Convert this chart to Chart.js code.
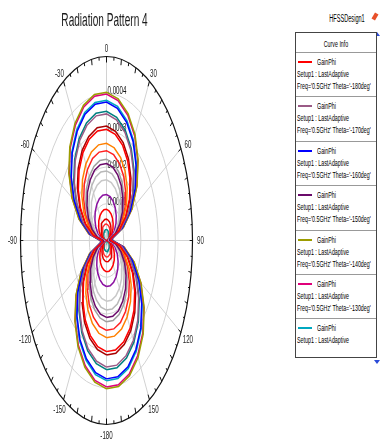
<!DOCTYPE html>
<html>
<head>
<meta charset="utf-8">
<script src="https://cdn.jsdelivr.net/npm/chart.js@4.4.1/dist/chart.umd.min.js"></script>
<style>
    body { margin: 0; background: #fff; font-family: "Liberation Sans", Arial, sans-serif; }
    #page { position: relative; width: 382px; height: 441px; overflow: hidden; }
    #plot { position: absolute; left: 0; top: 0; width: 230px; height: 441px; }
    .txt { position: absolute; white-space: nowrap; font-size: 9.5px; line-height: 12px; color: #000;
           transform: scaleX(0.56); transform-origin: left center; }
    .ctr { text-align: center; width: 200px; transform-origin: center center; }
    #legend { position: absolute; left: 295px; top: 32px; width: 80px; height: 324px;
              border: 1px solid #444; background: #fff; }
    .sep { position: absolute; left: 0; width: 80px; height: 0; border-top: 1px solid #999; }
    .sw { position: absolute; left: 2px; width: 14px; height: 2px; }
    .arr { position: absolute; width: 0; height: 0; border-left: 3px solid transparent; border-right: 3px solid transparent; }
</style>
</head>
<body>
<div id="page">
    <div id="plot"><canvas id="patternChart"></canvas></div>
    <div class="txt ctr" style="left:247px; top:13px; font-size:10px;">HFSSDesign1</div>
    <div style="position:absolute; left:373px; top:13px; width:4px; height:7px; background:#e8502a; transform:rotate(30deg);"></div>
    <div class="arr" style="left:374px; top:32px; border-bottom:4px solid #2a4ad8;"></div>
    <div class="arr" style="left:374px; top:360px; border-top:4px solid #2a4ad8;"></div>
    <div id="legend"></div>
</div>
<script>
    // phi sweep (deg)
    const phiDeg = [-180,-170,-160,-150,-140,-130,-120,-110,-100,-90,-80,-70,-60,-50,-40,-30,-20,-10,
                    0,10,20,30,40,50,60,70,80,90,100,110,120,130,140,150,160,170,180];

    // GainPhi values, in units of 1e-6, one array per Theta
    const gain_m180 = [302,293,275,248,214,174,128,78,26,26,78,128,174,214,248,275,293,302,302,293,275,248,214,174,128,78,26,26,78,128,174,214,248,275,293,302,302];
    const gain_m170 = [344,333,313,283,244,198,146,89,30,30,89,146,198,244,283,313,333,344,344,333,313,283,244,198,146,89,30,30,89,146,198,244,283,313,333,344,344];
    const gain_m160 = [376,365,342,310,267,217,160,98,33,33,98,160,217,267,310,342,365,376,376,365,342,310,267,217,160,98,33,33,98,160,217,267,310,342,365,376,376];
    const gain_m150 = [209,203,190,172,148,121,89,54,18,18,54,89,121,148,172,190,203,209,209,203,190,172,148,121,89,54,18,18,54,89,121,148,172,190,203,209,209];
    const gain_m140 = [403,391,367,332,286,232,171,105,35,35,105,171,232,286,332,367,391,403,403,391,367,332,286,232,171,105,35,35,105,171,232,286,332,367,391,403,403];
    const gain_m130 = [398,386,362,328,283,230,169,104,35,35,104,169,230,283,328,362,386,398,398,386,362,328,283,230,169,104,35,35,104,169,230,283,328,362,386,398,398];
    const gain_m120 = [381,370,347,314,271,220,162,99,33,33,99,162,220,271,314,347,370,381,381,370,347,314,271,220,162,99,33,33,99,162,220,271,314,347,370,381,381];
    const gain_m110 = [351,340,319,288,249,202,149,91,31,31,91,149,202,249,288,319,340,351,351,340,319,288,249,202,149,91,31,31,91,149,202,249,288,319,340,351,351];
    const gain_m100 = [311,301,283,256,221,179,132,81,27,27,81,132,179,221,256,283,301,311,311,301,283,256,221,179,132,81,27,27,81,132,179,221,256,283,301,311,311];
    const gain_m90  = [264,256,240,217,187,152,112,69,23,23,69,112,152,187,217,240,256,264,264,256,240,217,187,152,112,69,23,23,69,112,152,187,217,240,256,264,264];
    const gain_m80  = [244,237,222,201,173,141,104,63,21,21,63,104,141,173,201,222,237,244,244,237,222,201,173,141,104,63,21,21,63,104,141,173,201,222,237,244,244];
    const gain_m70  = [221,214,201,182,157,127,94,57,19,19,57,94,127,157,182,201,214,221,221,214,201,182,157,127,94,57,19,19,57,94,127,157,182,201,214,221,221];
    const gain_m60  = [189,184,172,156,134,109,80,49,17,17,49,80,109,134,156,172,184,189,189,184,172,156,134,109,80,49,17,17,49,80,109,134,156,172,184,189,189];
    const gain_m50  = [165,160,150,136,117,95,70,43,14,14,43,70,95,117,136,150,160,165,165,160,150,136,117,95,70,43,14,14,43,70,95,117,136,150,160,165,165];
    const gain_m40  = [125,121,113,102,88,72,53,32,11,11,32,53,72,88,102,113,121,125,125,121,113,102,88,72,53,32,11,11,32,53,72,88,102,113,121,125,125];
    const gain_m30  = [85,82,77,70,60,49,36,22,7,7,22,36,49,60,70,77,82,85,85,82,77,70,60,49,36,22,7,7,22,36,49,60,70,77,82,85,85];
    const gain_m20  = [58,56,53,48,41,33,25,15,5,5,15,25,33,41,48,53,56,58,58,56,53,48,41,33,25,15,5,5,15,25,33,41,48,53,56,58,58];
    const gain_m10  = [45,43,41,37,32,26,19,12,4,4,12,19,26,32,37,41,43,45,45,43,41,37,32,26,19,12,4,4,12,19,26,32,37,41,43,45,45];
    const gain_0    = [30,29,27,25,21,17,13,8,3,3,8,13,17,21,25,27,29,30,30,29,27,25,21,17,13,8,3,3,8,13,17,21,25,27,29,30,30];

    const thetaLabels = ["-180","-170","-160","-150","-140","-130","-120","-110","-100","-90",
                         "-80","-70","-60","-50","-40","-30","-20","-10","0"];
    const seriesValues = [gain_m180, gain_m170, gain_m160, gain_m150, gain_m140, gain_m130, gain_m120,
                          gain_m110, gain_m100, gain_m90, gain_m80, gain_m70, gain_m60, gain_m50,
                          gain_m40, gain_m30, gain_m20, gain_m10, gain_0];
    const seriesColors = ["#ff0000","#9a5a86","#0000ff","#6a0a6a","#9c9c00","#e0007a","#00a8c0",
                          "#008080","#a80000","#ff8000","#ff2020","#a0a0a0","#b8b8b8","#c8c8c8",
                          "#8a10a0","#ff0000","#e00000","#ff3030","#008c8c"];

    const radialTicks = [100, 200, 300, 400];
    const radialTickLabels = ["0.0001", "0.0002", "0.0003", "0.0004"];
    const radialMax = 500;
    const angleTicks = [0, 30, 60, 90, 120, 150, 180, -150, -120, -90, -60, -30];
    const angleTickLabels = ["0", "30", "60", "90", "120", "150", "-180", "-150", "-120", "-90", "-60", "-30"];

    const FONT = '"Liberation Sans", Arial, sans-serif';
    const SQUASH = 0.56;

    function to_points(vals) {
        return vals.map(function (r, i) {
            var a = phiDeg[i] * Math.PI / 180;
            return { x: r * Math.sin(a), y: r * Math.cos(a) };
        });
    }

    function squashed_text(ctx, txt, x, y, size, align, base) {
        ctx.save();
        ctx.translate(x, y);
        ctx.scale(SQUASH, 1);
        ctx.font = size + 'px ' + FONT;
        ctx.textAlign = align;
        ctx.textBaseline = base;
        ctx.fillText(txt, 0, 0);
        ctx.restore();
    }

    function ellipse_path(ctx, cx, cy, rx, ry) {
        ctx.beginPath();
        ctx.ellipse(cx, cy, rx, ry, 0, 0, Math.PI * 2);
    }

    const polarFrame = {
        id: 'polarFrame',
        beforeDatasetsDraw(chart) {
            const ctx = chart.ctx, sx = chart.scales.x, sy = chart.scales.y;
            const cx = sx.getPixelForValue(0), cy = sy.getPixelForValue(0);
            const rx = sx.getPixelForValue(radialMax) - cx, ry = cy - sy.getPixelForValue(radialMax);
            ctx.save();
            ctx.strokeStyle = '#d2d2d2';
            ctx.lineWidth = 1;
            radialTicks.forEach(function (r) {
                ellipse_path(ctx, cx, cy, sx.getPixelForValue(r) - cx, cy - sy.getPixelForValue(r));
                ctx.stroke();
            });
            for (let a = 0; a < 360; a += 30) {
                const t = a * Math.PI / 180;
                ctx.beginPath();
                ctx.moveTo(cx, cy);
                ctx.lineTo(cx + rx * Math.sin(t), cy - ry * Math.cos(t));
                ctx.stroke();
            }
            ctx.fillStyle = '#111';
            radialTicks.forEach(function (r, i) {
                squashed_text(ctx, radialTickLabels[i], cx + 1, sy.getPixelForValue(r) - 2, 11, 'left', 'middle');
            });
            ctx.restore();
        },
        afterDatasetsDraw(chart) {
            const ctx = chart.ctx, sx = chart.scales.x, sy = chart.scales.y;
            const cx = sx.getPixelForValue(0), cy = sy.getPixelForValue(0);
            const rx = sx.getPixelForValue(radialMax) - cx, ry = cy - sy.getPixelForValue(radialMax);
            ctx.save();
            ctx.strokeStyle = '#111';
            ctx.lineWidth = 1.2;
            ellipse_path(ctx, cx, cy, rx, ry);
            ctx.stroke();
            ctx.lineWidth = 1;
            for (let a = 0; a < 360; a += 5) {
                const t = a * Math.PI / 180;
                const len = (a % 10 === 0) ? 6 : 3.5;
                const px = cx + rx * Math.sin(t), py = cy - ry * Math.cos(t);
                ctx.beginPath();
                ctx.moveTo(px, py);
                ctx.lineTo(px - len * 0.47 * Math.sin(t), py + len * Math.cos(t));
                ctx.stroke();
            }
            ctx.fillStyle = '#222';
            angleTicks.forEach(function (a, i) {
                const t = a * Math.PI / 180;
                const lx = cx + (rx + 8) * Math.sin(t);
                const ly = cy - (ry + 8) * Math.cos(t) + (Math.cos(t) < -0.1 ? 3 : 0);
                squashed_text(ctx, angleTickLabels[i], lx, ly, 11, 'center', 'middle');
            });
            ctx.fillStyle = '#1a1a1a';
            squashed_text(ctx, 'Radiation Pattern 4', 104.5, 21, 18, 'center', 'middle');
            ctx.restore();
        }
    };

    new Chart(document.getElementById('patternChart'), {
        type: 'scatter',
        data: {
            datasets: seriesValues.map(function (vals, i) {
                return {
                    label: "GainPhi Theta='" + thetaLabels[i] + "deg'",
                    data: to_points(vals),
                    showLine: true,
                    borderColor: seriesColors[i],
                    backgroundColor: seriesColors[i],
                    borderWidth: 1.5,
                    pointRadius: 0,
                    tension: 0
                };
            })
        },
        options: {
            responsive: true,
            maintainAspectRatio: false,
            animation: false,
            layout: { padding: { left: 20.5, right: 37.5, top: 56.5, bottom: 16.5 } },
            scales: {
                x: { type: 'linear', min: -radialMax, max: radialMax, display: false },
                y: { type: 'linear', min: -radialMax, max: radialMax, display: false }
            },
            plugins: { legend: { display: false }, tooltip: { enabled: false } }
        },
        plugins: [polarFrame]
    });

    // Curve Info legend (first entries visible, list scrolls in the original)
    function build_legend() {
        const box = document.getElementById('legend');
        let html = '<div class="txt ctr" style="left:-60px; top:5px;">Curve Info</div>';
        for (let k = 0; k < 7; k++) {
            const s = 19 + 44.4 * k;
            html += '<div class="sep" style="top:' + s.toFixed(1) + 'px"></div>';
            html += '<div class="sw" style="top:' + (s + 9).toFixed(1) + 'px; background:' + seriesColors[k] + '"></div>';
            html += '<div class="txt" style="left:21px; top:' + (s + 4).toFixed(1) + 'px">GainPhi</div>';
            html += '<div class="txt" style="left:1px; top:' + (s + 16).toFixed(1) + 'px">Setup1 : LastAdaptive</div>';
            if (k < 6) {
                html += '<div class="txt" style="left:1px; top:' + (s + 28).toFixed(1) + 'px">Freq=\'0.5GHz\' Theta=\'' + thetaLabels[k] + 'deg\'</div>';
            }
        }
        box.innerHTML = html;
    }
    build_legend();
</script>
</body>
</html>
